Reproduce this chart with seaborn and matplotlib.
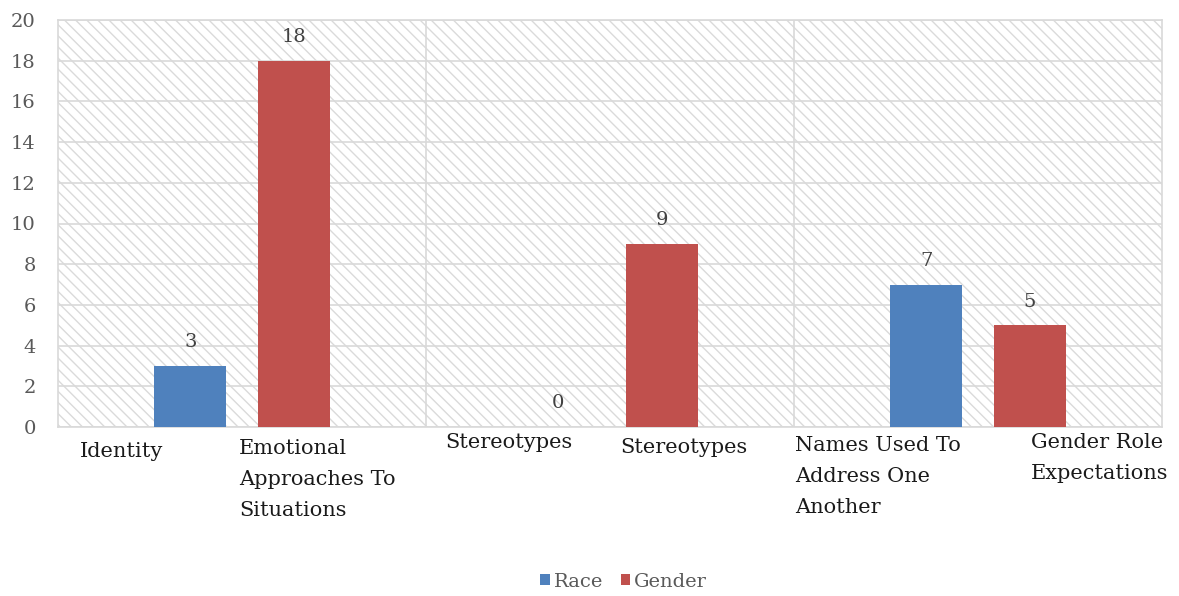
import matplotlib
matplotlib.use("Agg")
import matplotlib.pyplot as plt
from matplotlib.patches import Patch
from matplotlib.transforms import blended_transform_factory, offset_copy
import pandas as pd
import seaborn as sns

# Category labels (one under each bar) and series values
race_labels = ["Identity", "Stereotypes", "Names Used To\nAddress One\nAnother"]
gender_labels = ["Emotional\nApproaches To\nSituations", "Stereotypes", "Gender Role\nExpectations"]
race_values = [3, 0, 7]
gender_values = [18, 9, 5]
series_names = ["Race", "Gender"]
y_ticks = [0, 2, 4, 6, 8, 10, 12, 14, 16, 18, 20]

groups = ["g1", "g2", "g3"]
df = pd.DataFrame({
    "group": groups * 2,
    "series": [series_names[0]] * 3 + [series_names[1]] * 3,
    "value": race_values + gender_values,
})

sns.set_theme(style="white")
plt.rcParams["font.family"] = ["DejaVu Serif"]
plt.rcParams["hatch.linewidth"] = 1.0

colors = {"Race": "#4F81BD", "Gender": "#C0504D"}
grid_c = "#D9D9D9"

fig = plt.figure(figsize=(11.79, 5.96), dpi=100)
ax = fig.add_axes([0.0492, 0.2836, 0.9364, 0.6828])

# hatched plot area
ax.patch.set_facecolor("white")
ax.patch.set_edgecolor("#DADADA")
ax.patch.set_hatch("\\\\\\")
ax.patch.set_linewidth(0)

sns.barplot(data=df, x="group", y="value", hue="series", order=groups,
            hue_order=series_names, palette=colors, width=0.562, gap=0.306,
            saturation=1, legend=False, ax=ax, zorder=3, linewidth=0)

ax.set_xlim(-0.5, 2.5)
ax.set_ylim(0, 20)
ax.set_yticks(y_ticks)
ax.set_yticklabels([str(t) for t in y_ticks])
ax.tick_params(axis="y", length=0, pad=16, labelsize=14, labelcolor="#595959")
ax.set_xticks([])
ax.set_xlabel("")
ax.set_ylabel("")

ax.set_axisbelow(True)
for t in y_ticks:
    ax.axhline(t, color=grid_c, lw=1.2, zorder=1)
for xv in [0.5, 1.5]:
    ax.axvline(xv, color=grid_c, lw=1.2, zorder=1)
for s in ax.spines.values():
    s.set_visible(True)
    s.set_color(grid_c)
    s.set_linewidth(1.2)

for cont in ax.containers:
    ax.bar_label(cont, fmt="%g", padding=10.5, fontsize=14, color="#404040")

# category labels beneath each bar: (x offset from group centre, extra drop in px)
race_label_pos = [(-0.44, 4), (-0.448, -5), (-0.497, -2)]
gender_label_pos = [(-0.008, 1), (0.027, 0), (0.144, -5)]
trans = blended_transform_factory(ax.transData, ax.transAxes)
for i in range(3):
    for lab, (off, dy) in [(race_labels[i], race_label_pos[i]),
                           (gender_labels[i], gender_label_pos[i])]:
        tr = offset_copy(trans, fig=fig, x=0, y=-11 - dy, units="dots")
        ax.text(i + off, 0, lab, transform=tr, ha="left", va="top",
                fontsize=15, color="#1a1a1a", linespacing=1.8,
                multialignment="left")

handles = [Patch(facecolor=colors[s], edgecolor="none") for s in series_names]
fig.legend(handles, series_names, loc="center", bbox_to_anchor=(0.529, 0.024),
           ncol=2, frameon=False, fontsize=14, handlelength=0.5, handleheight=0.5,
           handletextpad=0.2, columnspacing=0.9, labelcolor="#595959")

fig.savefig("out.png", dpi=100)
